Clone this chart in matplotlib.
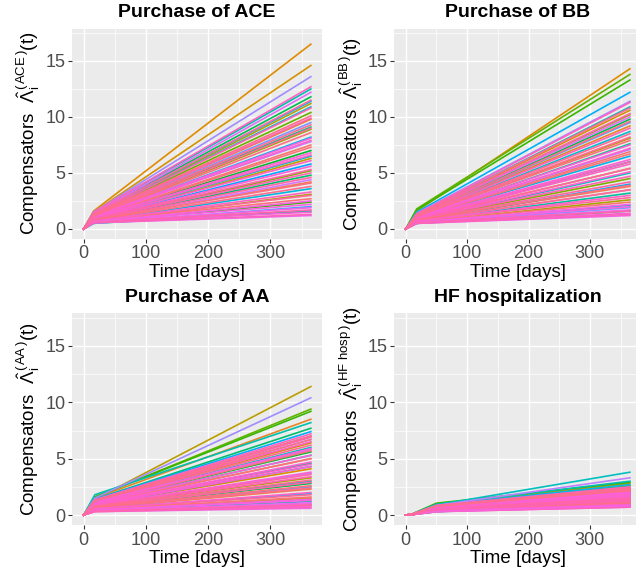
import numpy as np
import matplotlib
matplotlib.use("Agg")
import matplotlib.pyplot as plt

plt.rcParams["font.family"] = ["Liberation Sans", "DejaVu Sans"]
plt.rcParams["mathtext.fontset"] = "custom"
plt.rcParams["mathtext.rm"] = "Liberation Sans"
plt.rcParams["mathtext.it"] = "Liberation Sans"
plt.rcParams["mathtext.bf"] = "Liberation Sans:bold"

# ---- data (values at knot days, t=0 -> 0) ----
ace_days = [0, 16, 365]
ace_mixed = [(1.0, 7.5), (0.8, 4.2), (1.2, 9.8), (1.6, 16.5), (1.5, 14.6), (0.9, 6.3),
             (1.3, 11.2), (0.6, 3.1), (1.1, 8.9), (0.8, 5.2), (1.3, 10.4), (0.6, 2.4),
             (1.0, 7.0), (1.4, 11.8), (0.8, 4.8), (1.2, 9.1), (0.5, 1.6), (1.5, 12.5),
             (1.0, 6.5), (1.3, 10.9), (0.7, 3.6), (1.1, 8.2), (1.4, 11.4), (0.9, 5.8),
             (0.5, 2.0), (1.2, 9.5), (1.5, 13.6), (1.1, 7.8), (0.7, 4.4), (1.4, 12.2)]
ace_pink = [(0.55, 1.2), (0.9, 5.6), (1.2, 9.9), (0.7, 3.0), (1.0, 7.3), (0.6, 1.5),
            (1.5, 12.7), (0.8, 4.6), (1.1, 8.6), (0.65, 2.2), (0.95, 6.1), (1.3, 10.8),
            (0.75, 3.8), (0.6, 1.9), (1.05, 7.9), (0.85, 5.0), (1.2, 9.3), (0.7, 2.7),
            (1.0, 6.8), (0.55, 1.3), (1.35, 11.5), (0.8, 4.1), (1.1, 8.1), (0.7, 3.3),
            (0.9, 5.3), (1.25, 10.1), (0.65, 2.5), (1.0, 6.6), (0.6, 1.7), (1.15, 9.0)]

bb_days = [0, 18, 365]
bb_mixed = [(1.0, 6.9), (0.8, 3.8), (1.2, 9.2), (1.6, 14.3), (1.3, 10.6), (0.9, 5.4),
            (1.1, 8.1), (0.6, 2.6), (1.3, 10.2), (0.8, 4.5), (1.8, 13.8), (1.7, 13.3),
            (0.9, 6.0), (1.2, 9.8), (0.5, 1.6), (1.0, 7.6), (0.7, 3.2), (1.3, 10.9),
            (0.8, 5.0), (1.1, 8.7), (0.6, 2.1), (1.0, 6.5), (1.5, 12.2), (0.7, 4.0),
            (1.2, 9.5), (0.5, 1.9), (1.4, 11.4), (1.0, 7.1), (0.7, 3.5), (1.3, 10.0)]
bb_pink = [(0.5, 1.2), (0.85, 5.1), (1.15, 9.0), (0.7, 2.8), (1.0, 6.7), (0.55, 1.4),
           (1.35, 11.3), (0.8, 4.2), (1.1, 7.9), (0.6, 2.0), (0.9, 5.8), (1.25, 10.3),
           (0.75, 3.5), (0.55, 1.7), (1.0, 7.2), (0.85, 4.7), (1.1, 8.5), (0.65, 2.4),
           (0.95, 6.2), (0.5, 1.3), (1.3, 10.8), (0.8, 3.9), (1.05, 7.5), (0.7, 3.0),
           (0.9, 5.4), (1.2, 9.6), (0.6, 2.2), (0.95, 6.0), (0.55, 1.6), (1.1, 8.2)]

aa_days = [0, 18, 365]
aa_mixed = [(1.0, 5.0), (0.6, 2.3), (1.5, 8.5), (0.9, 4.1), (1.2, 6.4), (0.45, 1.5),
            (1.4, 11.4), (0.8, 3.3), (1.3, 7.0), (0.35, 0.9), (1.6, 9.4), (1.6, 9.2),
            (1.1, 5.6), (0.7, 2.8), (1.4, 7.7), (0.95, 4.6), (0.4, 1.2), (1.8, 8.2),
            (1.15, 6.0), (0.75, 3.0), (1.05, 5.3), (0.55, 1.9), (1.4, 7.4), (0.9, 4.3),
            (0.65, 2.5), (1.25, 6.7), (1.5, 10.4), (0.85, 3.7), (1.1, 5.8), (0.35, 1.1)]
aa_pink = [(0.3, 0.6), (0.85, 3.8), (1.25, 6.5), (0.55, 1.8), (1.0, 5.0), (0.35, 0.8),
           (1.35, 7.2), (0.7, 2.9), (1.1, 5.7), (0.45, 1.3), (0.9, 4.3), (1.3, 6.9),
           (0.65, 2.4), (0.4, 1.0), (1.05, 5.3), (0.8, 3.4), (1.2, 6.2), (0.5, 1.6),
           (0.95, 4.7), (0.3, 0.7), (1.3, 7.0), (0.65, 2.6), (1.15, 5.9), (0.55, 2.0),
           (0.8, 3.6), (1.25, 6.7), (0.45, 1.4), (0.95, 4.5), (0.35, 0.9), (0.75, 3.1)]

hf_days = [0, 10, 50, 365]
hf_mixed = [(0.05, 0.6, 1.9), (0.04, 0.4, 1.3), (0.06, 0.8, 2.4), (0.05, 0.5, 1.6),
            (0.07, 0.9, 2.8), (0.03, 0.3, 1.0), (0.05, 0.7, 2.1), (0.04, 0.5, 1.5),
            (0.06, 0.8, 2.3), (0.03, 0.35, 1.1), (0.07, 0.95, 2.6), (0.08, 1.05, 2.9),
            (0.05, 0.6, 1.8), (0.04, 0.45, 1.4), (0.06, 0.75, 2.2), (0.05, 0.55, 1.7),
            (0.07, 0.9, 2.5), (0.07, 0.95, 3.0), (0.07, 0.9, 3.8), (0.03, 0.4, 1.2),
            (0.05, 0.7, 2.0), (0.06, 0.85, 2.7), (0.05, 0.6, 1.9), (0.03, 0.3, 0.9),
            (0.06, 0.8, 2.2), (0.04, 0.5, 1.6), (0.05, 0.65, 2.0), (0.06, 0.85, 3.3),
            (0.04, 0.4, 1.3), (0.06, 0.75, 2.4)]
hf_pink = [(0.03, 0.3, 0.7), (0.05, 0.55, 1.5), (0.06, 0.75, 2.2), (0.04, 0.4, 1.0),
           (0.05, 0.65, 1.8), (0.03, 0.35, 0.8), (0.07, 0.85, 2.5), (0.04, 0.5, 1.3),
           (0.06, 0.7, 2.0), (0.03, 0.37, 0.9), (0.05, 0.58, 1.6), (0.06, 0.8, 2.3),
           (0.04, 0.43, 1.1), (0.03, 0.32, 0.75), (0.05, 0.67, 1.9), (0.04, 0.52, 1.4),
           (0.06, 0.73, 2.1), (0.04, 0.4, 1.0), (0.05, 0.61, 1.7), (0.03, 0.3, 0.7),
           (0.07, 0.82, 2.4), (0.04, 0.46, 1.2), (0.06, 0.7, 2.0), (0.04, 0.38, 0.95),
           (0.05, 0.55, 1.5), (0.06, 0.76, 2.2), (0.03, 0.35, 0.85), (0.05, 0.64, 1.8),
           (0.04, 0.47, 1.25), (0.06, 0.8, 2.35)]

panels = [
    ("Purchase of ACE", "ACE", ace_days, ace_mixed, ace_pink),
    ("Purchase of BB", "BB", bb_days, bb_mixed, bb_pink),
    ("Purchase of AA", "AA", aa_days, aa_mixed, aa_pink),
    ("HF hospitalization", "HF\\ hosp", hf_days, hf_mixed, hf_pink),
]


def hcl(h, c=100.0, l=65.0):
    # ggplot2 hue_pal colours (polar LUV -> sRGB)
    hr = np.radians(h)
    u, v = c * np.cos(hr), c * np.sin(hr)
    xn, yn, zn = 95.047, 100.0, 108.883
    un = 4 * xn / (xn + 15 * yn + 3 * zn)
    vn = 9 * yn / (xn + 15 * yn + 3 * zn)
    y = yn * ((l + 16) / 116) ** 3
    up = u / (13 * l) + un
    vp = v / (13 * l) + vn
    x = 9 * y * up / (4 * vp)
    z = -x / 3 - 5 * y + 3 * y / vp
    xyz = np.array([x, y, z]) / 100
    m = np.array([[3.2404542, -1.5371385, -0.4985314],
                  [-0.9692660, 1.8760108, 0.0415560],
                  [0.0556434, -0.2040259, 1.0572252]])
    rgb = m @ xyz
    rgb = np.where(rgb <= 0.0031308, 12.92 * rgb, 1.055 * np.clip(rgb, 0, None) ** (1 / 2.4) - 0.055)
    return tuple(np.clip(rgb, 0, 1))


fig = plt.figure(figsize=(6.36, 5.70), dpi=100)
W, H = 636, 570
boxes = [(72.3, 322.2, 28.5, 238.5), (394.5, 641.1, 28.5, 238.5),
         (72.3, 322.2, 313.3, 524.6), (394.5, 641.1, 313.3, 524.6)]

for (title, sup, days, mixed, pink), (x0, x1, y0, y1) in zip(panels, boxes):
    ax = fig.add_axes([x0 / W, 1 - y1 / H, (x1 - x0) / W, (y1 - y0) / H])
    ax.set_facecolor("#EBEBEB")
    for s in ax.spines.values():
        s.set_visible(False)
    ax.set_xlim(-18.25, 383.25)
    ax.set_ylim(-0.85, 17.9)
    ax.set_xticks([0, 100, 200, 300])
    ax.set_yticks([0, 5, 10, 15])
    ax.set_xticks([50, 150, 250, 350], minor=True)
    ax.set_yticks([2.5, 7.5, 12.5, 17.5], minor=True)
    ax.grid(which="major", color="white", linewidth=1.0)
    ax.grid(which="minor", color="white", linewidth=0.5)
    ax.set_axisbelow(True)
    ax.tick_params(which="major", length=3, width=0.8, color="#333333",
                   labelsize=13, labelcolor="#4D4D4D", pad=2)
    ax.tick_params(which="minor", length=0)

    n = len(mixed)
    for i, vals in enumerate(mixed):
        ax.plot(days, [0] + list(vals), color=hcl(15 + 285 * i / (n - 1)), lw=1.2)
    for j, vals in enumerate(pink):
        hue = 312 + 60 * ((j * 7) % 30) / 29
        ax.plot(days, [0] + list(vals), color=hcl(hue), lw=1.2)

    ax.set_title(title, fontsize=14, fontweight="bold", pad=8)
    ax.set_xlabel("Time [days]", fontsize=13.5, labelpad=1)
    ax.set_ylabel("Compensators  $\\hat{\\Lambda}_{i}^{(\\,\\mathrm{" + sup + "}\\,)}(t)$",
                  fontsize=13.5, labelpad=2)

fig.savefig("out.png", dpi=100)
